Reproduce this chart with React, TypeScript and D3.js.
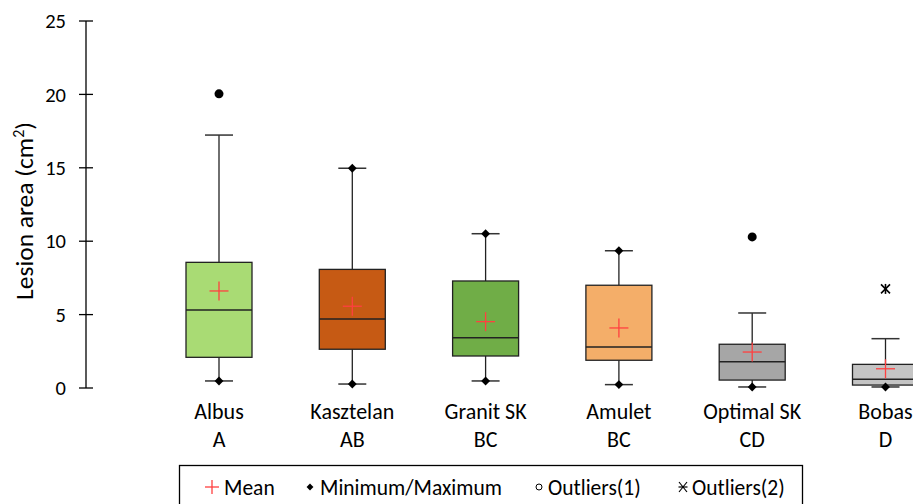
import React from "react";
import * as d3 from "d3";

const categories = ["Albus", "Kasztelan", "Granit SK", "Amulet", "Optimal SK", "Bobas"];
const groups = ["A", "AB", "BC", "BC", "CD", "D"];
const colors = ["#a9db74", "#c65a14", "#70ad47", "#f4ae69", "#a6a6a6", "#c4c4c4"];
const minVals = [0.48, 0.27, 0.48, 0.23, 0.07, 0.07];
const q1Vals = [2.09, 2.64, 2.18, 1.89, 0.54, 0.2];
const medianVals = [5.31, 4.7, 3.43, 2.79, 1.79, 0.59];
const q3Vals = [8.56, 8.08, 7.29, 7.0, 2.98, 1.61];
const whiskerTop = [17.23, 14.97, 10.51, 9.35, 5.11, 3.36];
const maxVals = [null, 14.97, 10.51, 9.35, null, null];
const meanVals = [6.61, 5.57, 4.52, 4.09, 2.45, 1.31];
const outliers1 = [[20.04], [], [], [], [10.29], []];
const outliers2 = [[], [], [], [], [], [6.75]];
const yTicks = [0, 5, 10, 15, 20, 25];

const FONT = "Calibri, Carlito, Lato, 'Open Sans', sans-serif";

export default function App() {
  const W = 913, H = 504;
  const y = d3.scaleLinear().domain([0, 25]).range([388, 21]);
  const x = d3.scaleBand().domain(categories).range([152.35, 152.35 + 6 * 133.3]).paddingInner(0).paddingOuter(0);
  const bw = 66;
  const capHalf = 14;
  const diamond = d3.symbol().type(d3.symbolDiamond2 || d3.symbolDiamond).size(50)();
  const axisX = 86;
  return (
    <svg width={W} height={H} style={{ position: "absolute", left: 0, top: 0 }} fontFamily={FONT}>
      <rect width={W} height={H} fill="#fff" />
      {/* y axis */}
      <line x1={axisX} x2={axisX} y1={y(25)} y2={y(0)} stroke="#000" strokeWidth={1.3} />
      {yTicks.map((t) => (
        <g key={t}>
          <line x1={axisX - 7} x2={axisX + 7} y1={y(t)} y2={y(t)} stroke="#000" strokeWidth={1.3} />
          <text x={66} y={y(t)} dy="0.35em" textAnchor="end" fontSize={20.5} fill="#000">{t}</text>
        </g>
      ))}
      <text transform={`translate(33,${211}) rotate(-90)`} textAnchor="middle" fontSize={25.5} fill="#000">
        Lesion area (cm<tspan fontSize={16} dy={-9}>2</tspan><tspan dy={9}>)</tspan>
      </text>
      {categories.map((c, i) => {
        const cx = (x(c) as number) + x.bandwidth() / 2;
        return (
          <g key={c}>
            <line x1={cx} x2={cx} y1={y(whiskerTop[i])} y2={y(q3Vals[i])} stroke="#222" strokeWidth={1.3} />
            <line x1={cx} x2={cx} y1={y(q1Vals[i])} y2={y(minVals[i])} stroke="#222" strokeWidth={1.3} />
            <line x1={cx - capHalf} x2={cx + capHalf} y1={y(whiskerTop[i])} y2={y(whiskerTop[i])} stroke="#333" strokeWidth={1.5} />
            <line x1={cx - capHalf} x2={cx + capHalf} y1={y(minVals[i])} y2={y(minVals[i])} stroke="#333" strokeWidth={1.5} />
            <rect x={cx - bw / 2} y={y(q3Vals[i])} width={bw} height={y(q1Vals[i]) - y(q3Vals[i])} fill={colors[i]} stroke="#222" strokeWidth={1.3} />
            <line x1={cx - bw / 2} x2={cx + bw / 2} y1={y(medianVals[i])} y2={y(medianVals[i])} stroke="#222" strokeWidth={1.5} />
            <path d={diamond} transform={`translate(${cx},${y(minVals[i])})`} fill="#000" />
            {maxVals[i] != null && <path d={diamond} transform={`translate(${cx},${y(maxVals[i] as number)})`} fill="#000" />}
            <g stroke="#ff4040" strokeWidth={1.3}>
              <line x1={cx - 9.5} x2={cx + 9.5} y1={y(meanVals[i])} y2={y(meanVals[i])} />
              <line x1={cx} x2={cx} y1={y(meanVals[i]) - 9.5} y2={y(meanVals[i]) + 9.5} />
            </g>
            {outliers1[i].map((v, j) => (
              <circle key={j} cx={cx} cy={y(v)} r={4.5} fill="#000" />
            ))}
            {outliers2[i].map((v, j) => (
              <g key={j} transform={`translate(${cx},${y(v)})`} stroke="#000" strokeWidth={1.6}>
                <line x1={-4.5} x2={4.5} y1={-4.5} y2={4.5} />
                <line x1={-4.5} x2={4.5} y1={4.5} y2={-4.5} />
                <line x1={0} x2={0} y1={-5} y2={5} />
              </g>
            ))}
            <text x={cx} y={419} textAnchor="middle" fontSize={22} fill="#000">{c}</text>
            <text x={cx} y={447} textAnchor="middle" fontSize={22} fill="#000">{groups[i]}</text>
          </g>
        );
      })}
      {/* legend */}
      <rect x={179.5} y={465.5} width={623} height={60} fill="#fff" stroke="#000" strokeWidth={1.3} />
      <g stroke="#ff4040" strokeWidth={1.3}>
        <line x1={205} x2={219} y1={487} y2={487} />
        <line x1={212} x2={212} y1={480} y2={494} />
      </g>
      <text x={224} y={487} dy="0.35em" fontSize={21.5}>Mean</text>
      <path d={d3.symbol().type(d3.symbolDiamond2 || d3.symbolDiamond).size(30)()} transform="translate(310,487)" fill="#000" />
      <text x={320} y={487} dy="0.35em" fontSize={21.5}>Minimum/Maximum</text>
      <circle cx={539} cy={487} r={3} fill="none" stroke="#000" strokeWidth={1} />
      <text x={548} y={487} dy="0.35em" fontSize={21.5}>Outliers(1)</text>
      <g transform="translate(683,487)" stroke="#000" strokeWidth={1.2}>
        <line x1={-4} x2={4} y1={-5} y2={5} />
        <line x1={-4} x2={4} y1={5} y2={-5} />
        <line x1={-4.5} x2={4.5} y1={0} y2={0} />
      </g>
      <text x={692} y={487} dy="0.35em" fontSize={21.5}>Outliers(2)</text>
    </svg>
  );
}
